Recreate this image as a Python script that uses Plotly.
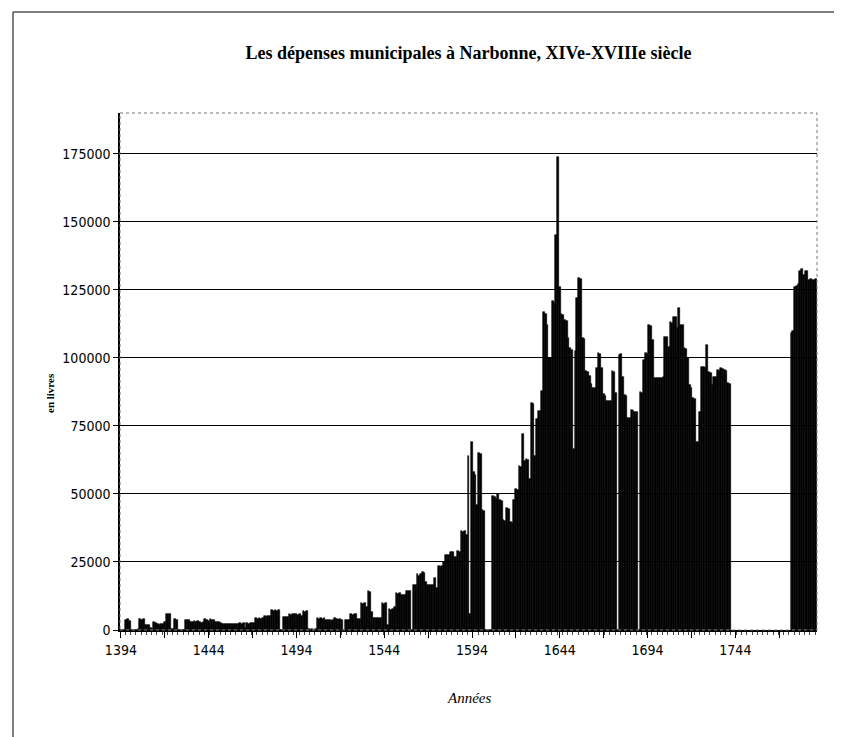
import plotly.graph_objects as go

title_text = "Les dépenses municipales à Narbonne, XIVe-XVIIIe siècle"
y_label = "en livres"
x_label = "Années"

first_year = 1394
last_year = 1790

# municipal expenses per year (livres); None = no data
depenses = (
    [0, 0, 0, 3600, 3900, 3400]                                                        # 1394-1399
    + [0, 0, 0, 0, 500, 3900, 3700, 3900, 1800, 1700]                                  # 1400s
    + [1900, 600, 500, 2800, 2600, 2200, 2000, 2300, 2200, 3000]                       # 1410s
    + [5900, 5700, 5900, 500, 400, 3900, 3800, 0, 0, 0]                                # 1420s
    + [0, 3700, 3500, 3700, 3000, 2800, 3200, 2900, 3300, 3000]                        # 1430s
    + [2700, 3100, 3900, 3700, 3300, 3900, 3600, 3500, 3000, 2900]                     # 1440s
    + [3000, 2600, 2200, 2200, 2100, 2200, 2200, 2100, 2200, 2200]                     # 1450s
    + [2100, 2200, 2400, 2300, 2400, 600, 2400, 2200, 2400, 2600]                      # 1460s
    + [2400, 4300, 4000, 4300, 4100, 4300, 5100, 4800, 5100, 5000]                     # 1470s
    + [7300, 7000, 7300, 7100, 7300, 0, 0, 4900, 4600, 4900]                           # 1480s
    + [5900, 5600, 5900, 5700, 5900, 5600, 5900, 5000, 7000, 6800]                     # 1490s
    + [7000, 400, 0, 500, 0, 400, 4300, 3900, 4300, 4100]                              # 1500s
    + [4300, 3700, 3500, 3700, 3400, 3700, 4300, 4100, 3700, 3900]                     # 1510s
    + [3700, 0, 3700, 3500, 3700, 5800, 5600, 5800, 5800, 4000]                        # 1520s
    + [4000, 9800, 9500, 9800, 8600, 14400, 14000, 6800, 4500, 4500]                   # 1530s
    + [4300, 4500, 4500, 9800, 9600, 9800, 2000, 7700, 7500, 7700]                     # 1540s
    + [8600, 13500, 13300, 13500, 12900, 12700, 12900, 14400, 14200, 14400]            # 1550s
    + [0, 16600, 16400, 20500, 20000, 20500, 21300, 21000, 17800, 16600]               # 1560s
    + [16400, 16600, 16500, 19000, 15600, 23400, 23000, 23400, 25000, 27700]           # 1570s
    + [27500, 27700, 28700, 28500, 27000, 26800, 28900, 28700, 36500, 36000]           # 1580s
    + [36500, 35000, 64000, 6000, 69000, 58000, 57000, 46000, 65000, 64700]            # 1590s
    + [44000, 43900, 0, 0, 0, 0, 49400, 49000, 48000, 50000]                           # 1600s
    + [47600, 47300, 40300, 40000, 44800, 44500, 39700, 39500, 47600, 51900]           # 1610s
    + [51500, 60400, 60000, 72000, 62200, 62800, 62500, 55500, 83600, 83000]           # 1620s
    + [64000, 77500, 80500, 80500, 87800, 117000, 116000, 112000, 100000, 100000]      # 1630s
    + [120800, 120000, 145000, 174000, 126000, 116000, 115900, 114000, 113500, 107400] # 1640s
    + [103700, 103000, 66500, 102500, 122000, 129300, 129000, 107400, 107000, 95200]   # 1650s
    + [95000, 93300, 90300, 89100, 89000, 96400, 101900, 101500, 96400, 86600]         # 1660s
    + [86000, 84200, 84200, 84000, 95200, 95000, 87000, 0, 101000, 101300]             # 1670s
    + [93100, 86400, 86000, 77800, 78000, 80900, 80500, 80200, 80000, 0]               # 1680s
    + [87600, 87000, 99200, 101700, 101500, 112100, 111800, 106600, 92500, 92500]      # 1690s
    + [92700, 92500, 92700, 93000, 107800, 107500, 104100, 113300, 113000, 115200]     # 1700s
    + [115000, 110900, 118200, 112100, 112000, 103500, 103300, 99800, 90000, 88800]    # 1710s
    + [85100, 85000, 69200, 69000, 80200, 96800, 96500, 96200, 104700, 94900]          # 1720s
    + [94500, 90000, 93100, 93000, 95500, 95300, 96200, 96000, 95500, 95300]           # 1730s
    + [90600, 90500] + [None] * 8                                                      # 1740s
    + [None] * 10                                                                      # 1750s
    + [None] * 10                                                                      # 1760s
    + [None] * 6 + [109200, 110000, 126000, 126500]                                    # 1770s
    + [127000, 131900, 132500, 130500, 132000, 131900, 128800, 129000, 128800, 128800] # 1780s
    + [129000]                                                                         # 1790
)

years = list(range(first_year, last_year + 1))
assert len(years) == len(depenses)

label_years = [1394, 1444, 1494, 1544, 1594, 1644, 1694, 1744]
major_tick_years = [1394, 1419, 1444, 1469, 1494, 1519, 1544, 1569, 1594, 1619,
                    1644, 1669, 1694, 1719, 1744, 1769]
y_ticks = [0, 25000, 50000, 75000, 100000, 125000, 150000, 175000]

tick_font = dict(family="Liberation Sans Narrow, DejaVu Sans Condensed, Arial Narrow, sans-serif",
                 size=14, color="black")

fig = go.Figure(
    go.Bar(
        x=years,
        y=depenses,
        width=1.0,
        marker=dict(color="black", line=dict(color="black", width=0.6)),
        hoverinfo="x+y",
    )
)

W, H = 842, 737
L, R, T, B = 112, 33, 105, 115
pw, ph = W - L - R, H - T - B

fig.update_layout(
    width=W, height=H,
    margin=dict(l=L, r=R, t=T, b=B),
    paper_bgcolor="white", plot_bgcolor="white",
    bargap=0,
    showlegend=False,
    title=dict(
        text="<b>" + title_text + "</b>",
        x=0.5, xref="paper", xanchor="center",
        y=1 - 45 / H, yref="container", yanchor="middle",
        font=dict(family="Liberation Serif, Times New Roman, serif", size=18, color="black"),
    ),
    xaxis=dict(
        range=[first_year - 0.5, last_year + 0.5],
        tickmode="array",
        tickvals=major_tick_years,
        ticktext=[str(y) if y in label_years else "" for y in major_tick_years],
        ticks="outside", ticklen=6, tickwidth=1, tickcolor="black",
        minor=dict(tickmode="linear", tick0=first_year - 0.5, dtick=3, ticks="outside",
                   ticklen=3, tickwidth=1, tickcolor="#444", showgrid=False),
        showline=True, linecolor="black", linewidth=1.5,
        showgrid=False, zeroline=False,
        tickfont=tick_font,
    ),
    yaxis=dict(
        range=[0, 190000],
        tickmode="array", tickvals=y_ticks, tickformat="d",
        ticks="outside", ticklen=5, tickwidth=1, tickcolor="black",
        showline=True, linecolor="black", linewidth=1.5,
        showgrid=True, gridcolor="black", gridwidth=1,
        zeroline=False,
        tickfont=tick_font,
    ),
    shapes=[
        dict(type="rect", xref="paper", yref="paper", x0=0, x1=1, y0=0, y1=1,
             line=dict(color="#777", width=1, dash="dot"), layer="above"),
        dict(type="rect", xref="paper", yref="paper",
             x0=(5 - L) / pw, x1=(837 - L) / pw,
             y0=(H - B - 733) / ph, y1=(H - B - 4) / ph,
             line=dict(color="black", width=1)),
    ],
    annotations=[
        dict(text="<b>" + y_label + "</b>", xref="paper", yref="paper",
             x=(42 - L) / pw, y=(H - B - 385) / ph, textangle=-90, showarrow=False,
             xanchor="center", yanchor="middle",
             font=dict(family="Liberation Serif, serif", size=11, color="black")),
        dict(text="<i>" + x_label + "</i>", xref="paper", yref="paper",
             x=0.5, y=(H - B - 690) / ph, showarrow=False,
             xanchor="center", yanchor="middle",
             font=dict(family="Liberation Serif, Times New Roman, serif", size=15, color="black")),
    ],
)

fig.write_html("out.html")
